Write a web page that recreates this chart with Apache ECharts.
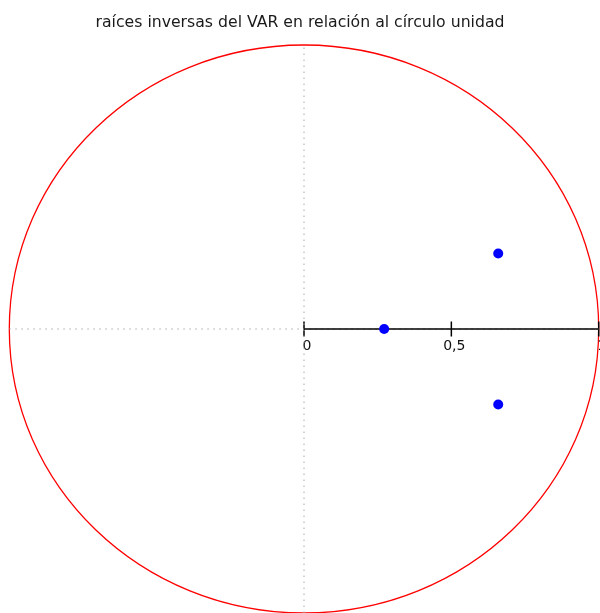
<!DOCTYPE html>
<html><head><meta charset="utf-8">
<script src="https://cdn.jsdelivr.net/npm/echarts@6/dist/echarts.min.js"></script>
<style>html,body{margin:0;padding:0;background:#fff}#c{width:600px;height:613px}</style>
</head><body><div id="c"></div>
<script>
const titleText = 'raíces inversas del VAR en relación al círculo unidad';
const roots = [[0.659, 0.266], [0.272, 0], [0.659, -0.266]];
const unitRadius = 1;
const tickValues = [0, 0.5, 1];
const tickLabels = ['0', '0,5', '1'];
const axisSegment = [[0, 0], [1, 0]];
const hGuide = [[-1, 0], [1, 0]];
const vGuide = [[0, -1], [0, 1]];

const chart = echarts.init(document.getElementById('c'), null, {renderer: 'canvas'});
chart.setOption({
  animation: false,
  backgroundColor: '#fff',
  title: {
    text: titleText, left: 'center', top: 10,
    textStyle: {fontFamily: 'DejaVu Sans', fontSize: 15.7, fontWeight: 'normal', color: '#1a1a1a'}
  },
  grid: {left: 9.3, width: 589.4, top: 45, height: 572},
  xAxis: {type: 'value', min: -1, max: 1, show: false},
  yAxis: {type: 'value', min: -1, max: 1, show: false},
  series: [
    {
      type: 'line', data: hGuide, symbol: 'none', silent: true,
      lineStyle: {color: '#aaa', width: 1, type: [1.5, 4.5]}
    },
    {
      type: 'line', data: vGuide, symbol: 'none', silent: true,
      lineStyle: {color: '#aaa', width: 1, type: [1.5, 4.5]}
    },
    {
      type: 'custom', silent: true, clip: false,
      data: [[0, 0, unitRadius]],
      renderItem: function (params, api) {
        const c = api.coord([api.value(0), api.value(1)]);
        const s = api.size([api.value(2), api.value(2)]);
        return {
          type: 'ellipse',
          shape: {cx: c[0], cy: c[1], rx: s[0], ry: s[1]},
          style: {fill: 'none', stroke: '#ff0000', lineWidth: 1.3}
        };
      }
    },
    {
      type: 'line', data: axisSegment, symbol: 'none', silent: true,
      lineStyle: {color: '#000', width: 1.5}
    },
    {
      type: 'scatter', silent: true,
      data: tickValues.map((v, i) => ({value: [v, 0], name: tickLabels[i]})),
      symbol: 'rect', symbolSize: [1.5, 15],
      itemStyle: {color: '#000', opacity: 1},
      label: {
        show: true, position: 'bottom', distance: 3, offset: [3, 0],
        formatter: p => p.name,
        fontFamily: 'DejaVu Sans', fontSize: 14, color: '#111'
      }
    },
    {
      type: 'scatter', data: roots, symbol: 'circle', symbolSize: 10,
      itemStyle: {color: '#0000ff', opacity: 1}, z: 5
    }
  ]
});
</script></body></html>
